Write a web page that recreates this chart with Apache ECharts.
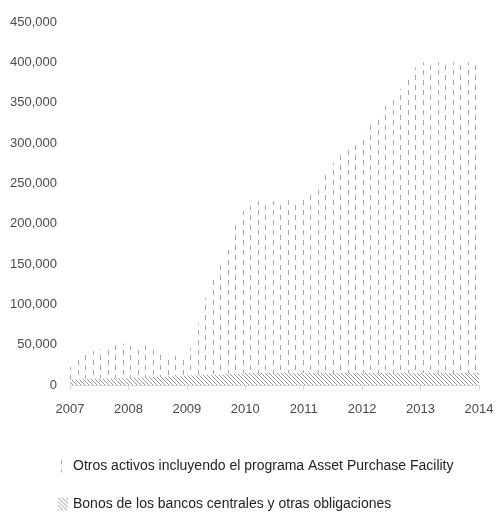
<!DOCTYPE html>
<html>
<head>
<meta charset="utf-8">
<script src="https://cdn.jsdelivr.net/npm/echarts@6/dist/echarts.min.js"></script>
<style>
  html, body { margin: 0; padding: 0; background: #ffffff; }
  #chart { width: 497px; height: 512px; }
</style>
</head>
<body>
<div id="chart"></div>
<script>
// Monthly observations, January 2007 to January 2014
const years = ['2007', '2008', '2009', '2010', '2011', '2012', '2013'];
const months = [];
years.forEach(y => { for (let m = 1; m <= 12; m++) months.push(y + '-' + String(m).padStart(2, '0')); });
months.push('2014-01');

const seriesNames = [
  'Otros activos incluyendo el programa Asset Purchase Facility',
  'Bonos de los bancos centrales y otras obligaciones'
];

// Bonos de los bancos centrales y otras obligaciones
const bonos = [
  7000, 7000, 7000, 8000, 8000, 8000, 8000, 8000, 8000, 9000, 9000, 9000,
  9000, 9000, 9000, 10000, 10000, 10000, 10000, 10000, 11000, 11000, 11000, 11000,
  12000, 12000, 12000, 12000, 13000, 13000, 13000, 13000, 14000, 14000, 14000, 14000,
  15000, 15000, 15000, 15000, 15000, 15000, 15000, 15000, 15000, 15000, 15000, 15000,
  15000, 15000, 15000, 15000, 15000, 15000, 15000, 15000, 15000, 15000, 15000, 15000,
  15000, 15000, 15000, 15000, 15000, 15000, 15000, 15000, 15000, 15000, 15000, 15000,
  15000, 15000, 15000, 15000, 15000, 15000, 15000, 15000, 15000, 15000, 15000, 15000,
  15000
];

// Otros activos incluyendo el programa Asset Purchase Facility
const otros = [
  15000, 19000, 25000, 30000, 32000, 34000, 36000, 38000, 41000, 42000, 43000, 42000,
  41000, 38000, 37000, 39000, 39000, 35000, 31000, 29000, 27000, 26000, 25000, 24000,
  24000, 38000, 52000, 83000, 97000, 112000, 127000, 137000, 146000, 161000, 186000, 198000,
  203000, 207000, 212000, 213000, 213000, 213000, 213000, 213000, 213000, 214000, 214000, 215000,
  215000, 218000, 225000, 233000, 241000, 250000, 259000, 267000, 273000, 279000, 283000, 287000,
  293000, 301000, 309000, 317000, 325000, 332000, 338000, 345000, 353000, 360000, 370000, 379000,
  385000, 385000, 385000, 385000, 385000, 385000, 385000, 385000, 385000, 385000, 385000, 385000,
  385000
];

const yMax = 450000;
const yStep = 50000;

// Fill patterns: staggered vertical dashes and a fine diagonal hatch
function dashPattern() {
  const c = document.createElement('canvas');
  c.width = 15; c.height = 10;
  const g = c.getContext('2d');
  g.fillStyle = '#ffffff';
  g.fillRect(0, 0, 15, 10);
  g.fillStyle = '#a6a6a6';
  g.fillRect(3, 0, 1, 5);
  g.fillRect(10, 5, 1, 5);
  return c;
}
function hatchPattern() {
  const c = document.createElement('canvas');
  c.width = 4; c.height = 4;
  const g = c.getContext('2d');
  g.fillStyle = '#ffffff';
  g.fillRect(0, 0, 4, 4);
  g.fillStyle = '#9a9a9a';
  for (let i = 0; i < 4; i++) g.fillRect(i, i, 1, 1);
  return c;
}

const dashFill = { image: dashPattern(), repeat: 'repeat' };
const hatchFill = { image: hatchPattern(), repeat: 'repeat' };

const font = "'Liberation Sans', Arial, sans-serif";

const chart = echarts.init(document.getElementById('chart'), null, { renderer: 'canvas' });
chart.setOption({
  animation: false,
  backgroundColor: '#ffffff',
  grid: { left: 70, right: 18, top: 22, bottom: 127, containLabel: false },
  legend: {
    orient: 'vertical',
    left: 58,
    top: 459,
    padding: 0,
    icon: 'rect',
    itemWidth: 10,
    itemHeight: 13,
    itemGap: 24,
    data: [seriesNames[0], seriesNames[1]],
    textStyle: { fontFamily: font, fontSize: 14, color: '#1f1f1f', padding: [0, 0, 0, 0] }
  },
  xAxis: {
    type: 'category',
    boundaryGap: false,
    data: months,
    axisLine: { lineStyle: { color: '#d9d9d9', width: 1 } },
    axisTick: { show: true, interval: 11, length: 5, lineStyle: { color: '#d9d9d9' } },
    axisLabel: {
      interval: 11,
      margin: 18,
      formatter: v => v.slice(0, 4),
      fontFamily: font, fontSize: 13, color: '#4a4a4a'
    },
    splitLine: { show: false }
  },
  yAxis: {
    type: 'value',
    min: 0,
    max: yMax,
    interval: yStep,
    axisLine: { show: false },
    axisTick: { show: false },
    splitLine: { show: false },
    axisLabel: {
      margin: 13,
      formatter: v => v.toLocaleString('en-US'),
      fontFamily: font, fontSize: 13, color: '#4a4a4a'
    }
  },
  series: [
    {
      name: seriesNames[1],
      type: 'line',
      stack: 'total',
      data: bonos,
      showSymbol: false,
      lineStyle: { width: 0 },
      itemStyle: { color: hatchFill },
      areaStyle: { color: hatchFill, opacity: 1 }
    },
    {
      name: seriesNames[0],
      type: 'line',
      stack: 'total',
      data: otros,
      showSymbol: false,
      lineStyle: { width: 0 },
      itemStyle: { color: dashFill },
      areaStyle: { color: dashFill, opacity: 1 }
    }
  ]
});
</script>
</body>
</html>
